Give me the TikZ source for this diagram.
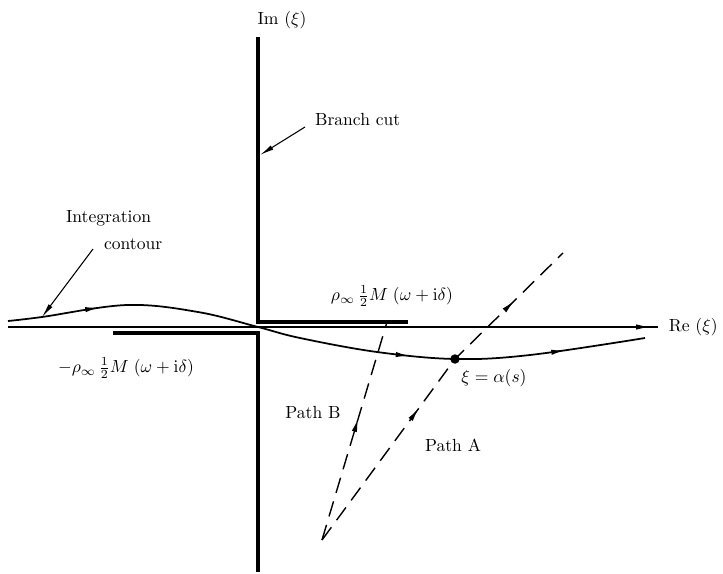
\documentclass[tikz,border=0pt]{standalone}
\usepackage{amsmath}
\usetikzlibrary{arrows.meta,decorations.markings,positioning}

\tikzset{
    axisline/.style={line width=0.6pt},
    cutline/.style={line width=1.9pt},
    contourline/.style={line width=1pt},
    pathline/.style={line width=0.8pt, dash pattern=on 9pt off 5pt},
    pointer/.style={line width=0.6pt, -{Latex[length=8pt,width=2.8pt]}},
    arrowat/.style={postaction={decorate,decoration={markings,
        mark=at position #1 with {\arrow{Latex[length=8pt,width=3pt]}}}}},
    lab/.style={inner sep=1pt},
    saddledot/.style={circle, fill, inner sep=0pt, minimum size=0.19cm}
}

\begin{document}
\begin{tikzpicture}[x=0.02cm, y=-0.02cm]
\useasboundingbox (0,0) rectangle (723,574);

% points of the plane
\coordinate (reL) at (8,327);
\coordinate (reR) at (658,327);
\coordinate (imT) at (258,37);
\coordinate (bpU) at (258,322);
\coordinate (cutUR) at (408,322);
\coordinate (cutLL) at (113,333);
\coordinate (bpL) at (258,333);
\coordinate (imB) at (258,572);
\coordinate (sp) at (455,359);
\coordinate (apex) at (322,540);
\coordinate (Atop) at (563,253);
\coordinate (Btop) at (387,322);

% real axis
\draw[axisline, arrowat=0.988] (reL) -- (reR);
\node[lab, right=5pt of reR] (relab) {Re $(\xi)$};

% branch cuts along the imaginary axis
\draw[cutline] (imT) -- (bpU) -- (cutUR);
\draw[cutline] (cutLL) -- (bpL) -- (imB);
\node[lab] (imlab) at (282,20) {Im $(\xi)$};

% integration contour
\coordinate (c0) at (8,321);
\coordinate (c1) at (42,317);
\coordinate (c2) at (127,305);
\coordinate (c3) at (198,312);
\coordinate (c4) at (258,327);
\coordinate (c5) at (300,338);
\coordinate (c6) at (377,352);
\coordinate (c7) at (530,355);
\coordinate (c8) at (645,338);
\draw[contourline, arrowat=0.143, arrowat=0.633, arrowat=0.875]
    plot[smooth, tension=0.6] coordinates {(c0) (c1) (c2) (c3) (c4) (c5) (c6) (sp) (c7) (c8)};

% steepest descent paths
\draw[pathline, arrowat=0.436, arrowat=0.82] (apex) -- (sp) -- (Atop);
\draw[pathline, arrowat=0.56] (apex) -- (Btop);
\node[saddledot] (spdot) at (sp) {};

% labels
\node[lab] (bcut) at (392,296) {$\rho_{\infty}\,\tfrac{1}{2}M\;(\omega + \mathrm{i}\delta)$};
\node[lab] (bcutneg) at (126,368) {$-\rho_{\infty}\,\tfrac{1}{2}M\;(\omega + \mathrm{i}\delta)$};
\node[lab] (splab) at (494,378) {$\xi = \alpha(s)$};
\node[lab] (plabB) at (313,412) {Path B};
\node[lab] (plabA) at (453,445) {Path A};

\node[lab, anchor=west] (bclab) at (313,120) {Branch cut};
\coordinate (bcptr) at (305,127);
\coordinate (bcpt) at (260,155);
\draw[pointer] (bcptr) -- (bcpt);

\node[lab, align=left, anchor=west] (intlab) at (64,230) {Integration\\[3pt]\hspace*{0.76cm}contour};
\coordinate (intptr) at (93,249);
\draw[pointer] (intptr) -- (c1);

\end{tikzpicture}
\end{document}
